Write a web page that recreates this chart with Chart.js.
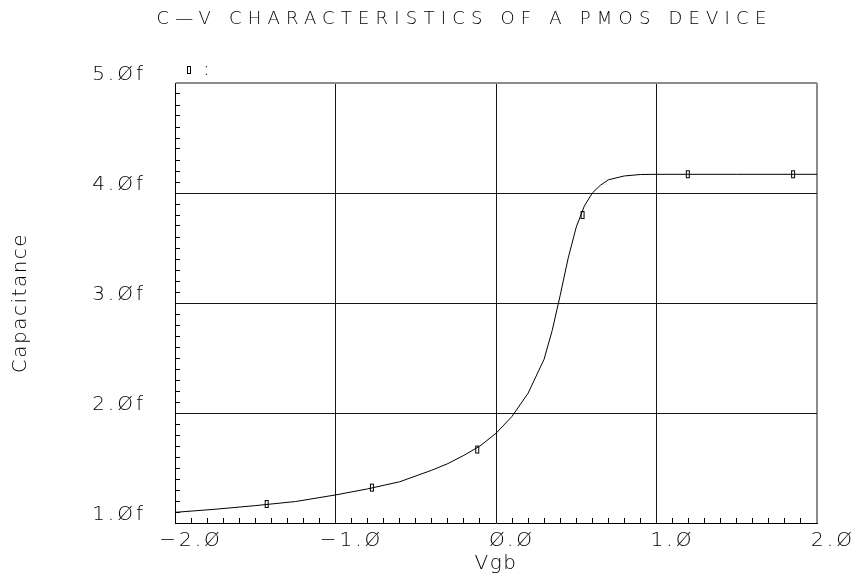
<!DOCTYPE html>
<html>
<head>
<meta charset="utf-8">
<script src="https://cdn.jsdelivr.net/npm/chart.js@4.4.1/dist/chart.umd.min.js"></script>
<style>
  html, body { margin: 0; padding: 0; background: #fff; }
  #c { display: block; }
</style>
</head>
<body>
<canvas id="c" width="856" height="577"></canvas>
<script>
// ---- data ----
const vgb = [-2.0, -1.75, -1.5, -1.25, -1.0, -0.8, -0.6, -0.4, -0.3, -0.2, -0.1, 0.0, 0.1, 0.2, 0.3, 0.35, 0.4, 0.45, 0.5, 0.55, 0.6, 0.65, 0.7, 0.8, 0.9, 1.0, 1.5, 2.0];
const capacitance = [1.097, 1.125, 1.158, 1.195, 1.255, 1.31, 1.375, 1.48, 1.54, 1.615, 1.70, 1.815, 1.97, 2.18, 2.49, 2.75, 3.07, 3.41, 3.69, 3.88, 4.0, 4.07, 4.12, 4.155, 4.168, 4.17, 4.17, 4.17];
const markerVgb = [-1.429, -0.773, -0.117, 0.539, 1.195, 1.851];
const markerCap = [1.173, 1.322, 1.668, 3.80, 4.171, 4.171];
const xTickRange = [-2.0, 2.0];
const yTickRange = [1.0, 5.0];
const titleText = 'C\u2014V CHARACTERISTICS OF A PMOS DEVICE';
const xTitle = 'Vgb';
const yTitle = 'Capacitance';
const legendLabel = ':';

const FONT = "'DejaVu Sans', sans-serif";
const WEIGHT = '200';
const TXT = '#000';

function fmtNum(v) {
  const s = Math.abs(v).toFixed(1).replace(/0/g, '\u00D8');
  return (v < -1e-9 ? '\u2212' : '') + s;
}
const isMajor = v => Math.abs(v - Math.round(v)) < 1e-6;

function makeMarker() {
  const c = document.createElement('canvas');
  c.width = 6; c.height = 10;
  const g = c.getContext('2d');
  g.fillStyle = '#fff';
  g.fillRect(1, 1, 4, 8);
  g.strokeStyle = '#000';
  g.lineWidth = 1;
  g.strokeRect(1.5, 1.5, 3, 7);
  return c;
}
const marker = makeMarker();

function gridColor(ctx, maxV, minV) {
  const v = ctx.tick ? ctx.tick.value : NaN;
  if (Math.abs(v - maxV) < 1e-6) return '#8c8c8c';
  if (Math.abs(v - minV) < 1e-6) return 'rgba(0,0,0,0)';
  return isMajor(v) ? '#161616' : 'rgba(0,0,0,0)';
}
function gridWidth(ctx, maxV) {
  const v = ctx.tick ? ctx.tick.value : NaN;
  return Math.abs(v - maxV) < 1e-6 ? 2 : 1;
}
function tickColor(ctx) {
  const v = ctx.tick ? ctx.tick.value : NaN;
  return isMajor(v) ? 'rgba(0,0,0,0)' : '#000';
}

// letter spacing / nudging helper (mimics the wide plotter stroke font)
const spacingPlugin = {
  id: 'spacing',
  afterLayout(chart) {
    const wrap = (obj, method, sp, dx, dy) => {
      if (!obj || obj['__w_' + method]) return;
      const orig = obj[method];
      obj[method] = function (...args) {
        const ctx = this.ctx;
        ctx.save();
        ctx.translate(dx || 0, dy || 0);
        const prev = ctx.letterSpacing;
        ctx.letterSpacing = sp;
        const r = orig.apply(this, args);
        ctx.letterSpacing = prev || '0px';
        ctx.restore();
        return r;
      };
      obj['__w_' + method] = true;
    };
    wrap(chart.titleBlock, 'draw', '6.2px', 56, 0);
    wrap(chart.legend, 'draw', '3px', 0, 7);
    Object.values(chart.scales).forEach(s => {
      wrap(s, 'drawLabels', '3px');
      wrap(s, 'drawTitle', '1.5px');
    });
  }
};

new Chart(document.getElementById('c'), {
  type: 'line',
  data: {
    datasets: [
      {
        label: 'C(Vgb)',
        data: vgb.map((x, i) => ({ x, y: capacitance[i] })),
        borderColor: '#000',
        borderWidth: 1,
        pointRadius: 0,
        tension: 0,
        fill: false
      },
      {
        label: legendLabel,
        data: markerVgb.map((x, i) => ({ x, y: markerCap[i] })),
        showLine: false,
        pointStyle: marker,
        pointRadius: 5,
        borderColor: '#000',
        backgroundColor: '#fff'
      }
    ]
  },
  options: {
    responsive: false,
    animation: false,
    devicePixelRatio: 1,
    layout: { padding: { left: 0, right: 39, top: 0, bottom: 0 } },
    plugins: {
      title: {
        display: true,
        text: titleText,
        color: TXT,
        font: { family: FONT, size: 18, weight: WEIGHT, lineHeight: 1.2 },
        padding: { top: 9, bottom: 12.4 }
      },
      legend: {
        display: true,
        position: 'top',
        align: 'start',
        fullSize: false,
        labels: {
          usePointStyle: true,
          pointStyleWidth: 8,
          boxHeight: 8,
          padding: 10,
          color: TXT,
          font: { family: FONT, size: 20, weight: WEIGHT },
          filter: item => item.datasetIndex === 1
        }
      },
      tooltip: { enabled: false }
    },
    scales: {
      x: {
        type: 'linear',
        min: xTickRange[0],
        max: xTickRange[1],
        afterFit: s => { s.height = 54; },
        border: { display: true, color: '#000', width: 1 },
        grid: {
          drawOnChartArea: true,
          drawTicks: true,
          tickLength: -5,
          color: c => gridColor(c, xTickRange[1], xTickRange[0]),
          lineWidth: c => gridWidth(c, xTickRange[1]),
          tickColor: tickColor,
          tickWidth: 1
        },
        ticks: {
          stepSize: 0.1,
          autoSkip: false,
          maxRotation: 0,
          minRotation: 0,
          padding: 11,
          labelOffset: 16,
          color: TXT,
          font: { family: FONT, size: 20, weight: WEIGHT },
          callback: v => isMajor(v) ? fmtNum(v) : ''
        },
        title: {
          display: true,
          text: xTitle,
          color: TXT,
          font: { family: FONT, size: 20, weight: WEIGHT, lineHeight: 1.2 },
          padding: { top: 0, bottom: 1 }
        }
      },
      y: {
        type: 'linear',
        min: yTickRange[0],
        max: yTickRange[1],
        afterFit: s => { s.width = 175; },
        border: { display: true, color: '#000', width: 1 },
        grid: {
          drawOnChartArea: true,
          drawTicks: true,
          tickLength: -5,
          color: c => gridColor(c, yTickRange[1], yTickRange[0]),
          lineWidth: c => gridWidth(c, yTickRange[1]),
          tickColor: tickColor,
          tickWidth: 1
        },
        ticks: {
          stepSize: 0.1,
          autoSkip: false,
          padding: 34,
          labelOffset: -8,
          color: TXT,
          font: { family: FONT, size: 20, weight: WEIGHT },
          callback: v => isMajor(v) ? fmtNum(v) + 'f' : ''
        },
        title: {
          display: true,
          text: yTitle,
          color: TXT,
          font: { family: FONT, size: 20, weight: WEIGHT, lineHeight: 1.2 },
          padding: { top: 9, bottom: 0 }
        }
      }
    }
  },
  plugins: [spacingPlugin]
});
</script>
</body>
</html>
